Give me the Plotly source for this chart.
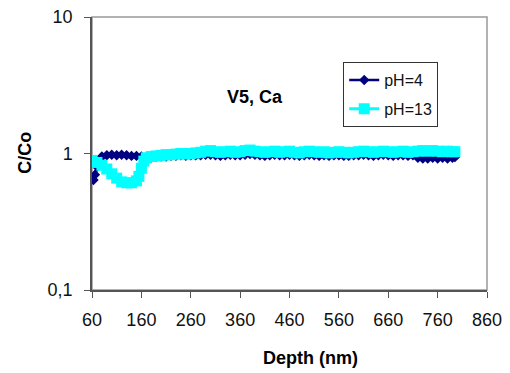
import plotly.graph_objects as go

# ---- data ----
depth_ph4 = [60, 63, 66, 70, 75, 80, 90, 100, 110, 120, 130, 140, 150, 160, 170, 180, 190, 200,
             210, 220, 230, 240, 250, 260, 270, 280, 290, 300, 310, 320, 330, 340, 350, 360,
             370, 380, 390, 400, 410, 420, 430, 440, 450, 460, 470, 480, 490, 500, 510, 520,
             530, 540, 550, 560, 570, 580, 590, 600, 610, 620, 630, 640, 650, 660, 670, 680,
             690, 700, 710, 720, 730, 740, 750, 760, 770, 780, 790, 795]
c_ph4 = [0.66, 0.64, 0.70, 0.80, 0.90, 0.95, 0.97, 0.98, 0.97, 0.98, 0.97, 0.96, 0.96, 0.95, 0.94, 0.93, 0.94, 0.95,
         0.95, 0.96, 0.96, 0.97, 0.96, 0.97, 0.97, 0.97, 0.98, 0.98, 0.97, 0.96, 0.97, 0.98, 0.97, 0.97,
         0.98, 0.99, 0.98, 0.97, 0.96, 0.97, 0.98, 0.97, 0.97, 0.98, 0.97, 0.96, 0.97, 0.98, 0.97, 0.96,
         0.97, 0.96, 0.97, 0.97, 0.96, 0.96, 0.97, 0.97, 0.98, 0.97, 0.96, 0.97, 0.98, 0.97, 0.96, 0.97,
         0.97, 0.96, 0.97, 0.93, 0.92, 0.92, 0.93, 0.92, 0.93, 0.92, 0.93, 0.94]

depth_ph13 = [60, 70, 80, 90, 100, 110, 120, 130, 140, 150, 155, 160, 165, 170, 180, 190, 200,
              210, 220, 230, 240, 250, 260, 270, 280, 290, 300, 310, 320, 330, 340, 350, 360,
              370, 380, 390, 400, 410, 420, 430, 440, 450, 460, 470, 480, 490, 500, 510, 520,
              530, 540, 550, 560, 570, 580, 590, 600, 610, 620, 630, 640, 650, 660, 670, 680,
              690, 700, 710, 720, 730, 740, 750, 760, 770, 780, 790, 795]
c_ph13 = [0.89, 0.86, 0.82, 0.77, 0.71, 0.66, 0.62, 0.61, 0.61, 0.63, 0.68, 0.78, 0.88, 0.93, 0.95, 0.96, 0.97,
          0.98, 0.98, 0.99, 1.00, 0.99, 1.00, 1.01, 1.02, 1.04, 1.05, 1.03, 1.02, 1.03, 1.04, 1.02, 1.03,
          1.05, 1.06, 1.04, 1.03, 1.02, 1.03, 1.04, 1.02, 1.03, 1.04, 1.02, 1.01, 1.03, 1.04, 1.03, 1.02,
          1.03, 1.01, 1.02, 1.03, 1.02, 1.01, 1.02, 1.03, 1.04, 1.03, 1.02, 1.03, 1.04, 1.03, 1.02, 1.03,
          1.04, 1.02, 1.03, 1.04, 1.05, 1.04, 1.05, 1.04, 1.03, 1.04, 1.03, 1.03]

x_ticks = [60, 160, 260, 360, 460, 560, 660, 760, 860]
y_tickvals = [0.1, 1, 10]
y_ticktext = ["0,1", "1", "10"]

FONT = "Arial, 'Liberation Sans', sans-serif"

fig = go.Figure()
fig.add_trace(go.Scatter(
    x=depth_ph4, y=c_ph4, mode="lines+markers", name="pH=4",
    line=dict(color="#000080", width=2.5),
    marker=dict(symbol="diamond", size=8, color="#000080"),
    legendgroup="a",
))
fig.add_trace(go.Scatter(
    x=depth_ph13, y=c_ph13, mode="lines+markers", name="pH=13",
    line=dict(color="#00FFFF", width=3),
    marker=dict(symbol="square", size=11, color="#00FFFF"),
    legendgroup="b",
))

# the page body has an 8px default margin, so the figure is 8px smaller
fig.update_layout(
    width=502, height=365,
    margin=dict(l=84, r=23, t=9, b=83, autoexpand=False),
    paper_bgcolor="white", plot_bgcolor="white",
    font=dict(family=FONT, size=18, color="#111"),
    showlegend=True,
    legend=dict(
        x=0.636, y=0.835, xanchor="left", yanchor="top",
        bordercolor="#333", borderwidth=1, bgcolor="white",
        font=dict(size=16, family=FONT, color="#111"),
        traceorder="grouped", tracegroupgap=5,
        itemwidth=30, entrywidth=60,
    ),
    xaxis=dict(
        range=[60, 860], tickvals=x_ticks, showgrid=False, zeroline=False,
        showline=True, linecolor="#555", linewidth=1.5, automargin=False,
        ticks="outside", ticklen=6, tickcolor="#555",
        ticklabelstandoff=7, tickfont=dict(size=18), ticklabeloverflow="allow",
    ),
    yaxis=dict(
        type="log", range=[-1, 1], tickvals=y_tickvals, ticktext=y_ticktext,
        showgrid=False, zeroline=False, automargin=False,
        showline=True, linecolor="#555", linewidth=1.5,
        ticks="outside", ticklen=6, tickcolor="#555",
        ticklabelstandoff=8, tickfont=dict(size=18), ticklabeloverflow="allow",
    ),
    shapes=[dict(type="rect", xref="paper", yref="paper", x0=0, x1=1, y0=0, y1=1,
                 line=dict(color="#999", width=1.5), layer="below")],
    annotations=[
        dict(text="<b>V5, Ca</b>", xref="paper", yref="paper", x=0.413, y=0.751,
             showarrow=False, font=dict(size=18, family=FONT, color="#000")),
        dict(text="<b>Depth (nm)</b>", xref="paper", yref="paper", x=0.552, y=-0.249,
             showarrow=False, yanchor="middle", font=dict(size=18, family=FONT, color="#000")),
        dict(text="<b>C/Co</b>", xref="paper", yref="paper", x=-0.170, y=0.502,
             showarrow=False, textangle=-90, xanchor="center", yanchor="middle",
             font=dict(size=18, family=FONT, color="#000")),
    ],
)

fig.write_html("out.html")
